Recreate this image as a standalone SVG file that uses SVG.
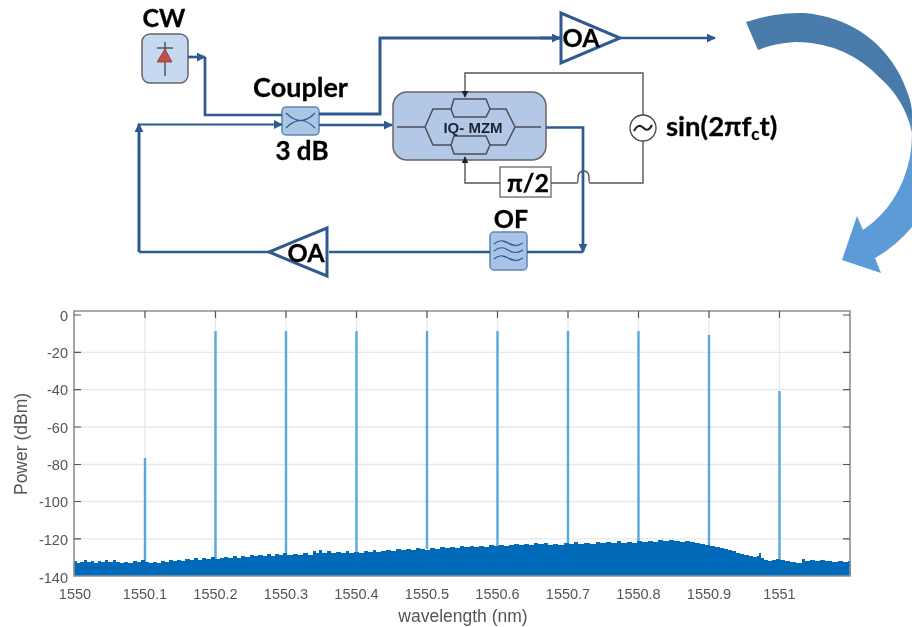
<svg xmlns="http://www.w3.org/2000/svg" width="912" height="627" viewBox="0 0 912 627">
<defs>
<style>
.lab{font-family:"Lato","Carlito","Liberation Sans",sans-serif;font-weight:700;fill:#000;stroke:#000;stroke-width:0.3px;font-size:25px}
.tick{font-family:"Liberation Sans",Arial,sans-serif;font-size:14.5px;fill:#555}
.blue{fill:none;stroke:#2f5a8f;stroke-width:2.7}
.blk{fill:none;stroke:#555;stroke-width:1.4}
.wg{fill:none;stroke:#4a4f5a;stroke-width:1.5}
.grid{stroke:#e8e8e8;stroke-width:1.3;fill:none}
.spk{stroke:#57a8de;stroke-width:2.4;fill:none}
.tk{stroke:#555;stroke-width:1.2;fill:none}
</style>
<marker id="ah" viewBox="0 0 10 10" refX="9" refY="5" markerWidth="9" markerHeight="9" markerUnits="userSpaceOnUse" orient="auto"><path d="M0 0L10 5L0 10Z" fill="#2f5a8f"/></marker>
<marker id="ak" viewBox="0 0 10 10" refX="9" refY="5" markerWidth="7" markerHeight="7" markerUnits="userSpaceOnUse" orient="auto"><path d="M0 0L10 5L0 10Z" fill="#222"/></marker>
<linearGradient id="ca" gradientUnits="userSpaceOnUse" x1="0" y1="13" x2="0" y2="273"><stop offset="0" stop-color="#4a7bab"/><stop offset="0.38" stop-color="#4a7aaa"/><stop offset="0.46" stop-color="#5b9bd5"/><stop offset="1" stop-color="#5b9bd5"/></linearGradient>
<filter id="soft" x="0" y="0" width="100%" height="100%"><feGaussianBlur stdDeviation="0.4"/></filter>
</defs>
<rect width="912" height="627" fill="#fff"/>
<g filter="url(#soft)">

<g id="node-cw">
<rect x="142" y="34" width="46" height="49" rx="8" fill="#c6d9f0" stroke="#666" stroke-width="1.500"/>
<path d="M165 42V76M157 48H173" stroke="#555" stroke-width="1.500" fill="none"/>
<path d="M157 62L165 49L172 62Z" fill="#c0504d" stroke="#8c3836" stroke-width="0.800"/>
<text class="lab" x="164" y="27" text-anchor="middle">CW</text>
</g>

<g id="node-coupler">
<rect x="282" y="107" width="37" height="28" rx="4" fill="#a9c6e3" stroke="#5b86b5" stroke-width="1.500"/>
<path d="M286 113Q300.500 128 315 113M286 128Q300.500 113 315 128" fill="none" stroke="#2f5a8f" stroke-width="1.200"/>
<text class="lab" x="300.500" y="97" text-anchor="middle" style="font-size:27px">Coupler</text>
<text class="lab" x="302" y="160" text-anchor="middle" style="font-size:26px">3 dB</text>
</g>

<g id="node-oa-top">
<path d="M561 13V63L620 38Z" fill="#fff" stroke="#2f5a8f" stroke-width="3"/>
<text class="lab" x="581" y="47" text-anchor="middle">OA</text>
</g>

<g id="node-mzm">
<rect x="393" y="92" width="153" height="68" rx="14" fill="#b3c7e6" stroke="#666" stroke-width="1.500"/>
<path class="wg" d="M397 127H425L433 109H451M490 109H506L515 127L506 145H490M451 145H433L425 127M515 127H541"/>
<path class="wg" d="M451 109L454 99H486L490 109L486 117H454Z"/>
<path class="wg" d="M451 145L454 136H486L490 145L486 154H454Z"/>
<text x="473" y="133" text-anchor="middle" font-family="Liberation Sans, Arial, sans-serif" font-weight="700" font-size="15" fill="#1d2433">IQ- MZM</text>
</g>

<g id="node-phase">
<rect x="500" y="167" width="51" height="30" fill="#fff" stroke="#666" stroke-width="1.300"/>
<text class="lab" x="528" y="192" text-anchor="middle">π/2</text>
</g>

<g id="node-source">
<circle cx="643" cy="128" r="13" fill="#fff" stroke="#444" stroke-width="1.300"/>
<path d="M634 131Q638 123 643 127.500Q648 133 652 125" fill="none" stroke="#222" stroke-width="2"/>
<text class="lab" x="666" y="136" style="font-size:27.500px">sin(2πf<tspan font-size="17" dy="4">c</tspan><tspan dy="-4">t)</tspan></text>
</g>

<g id="node-of">
<rect x="490" y="232" width="37" height="38" rx="4" fill="#a9c3e6" stroke="#5b86b5" stroke-width="1.500"/>
<path d="M494 244Q501 238 508 243T523 243M494 251Q501 245 508 250T523 250M494 259Q501 253 508 258T523 258M502 241L517 246M502 256L517 261" fill="none" stroke="#2f5a8f" stroke-width="1.100"/>
<text class="lab" x="511" y="228" text-anchor="middle">OF</text>
</g>

<g id="node-oa-bottom">
<path d="M327 228V276L269 252Z" fill="#fff" stroke="#2f5a8f" stroke-width="3"/>
<text class="lab" x="306" y="262" text-anchor="middle">OA</text>
</g>

<g id="connectors">
<path class="blue" d="M188 57H205" marker-end="url(#ah)"/>
<path class="blue" d="M205 57V115H282"/>
<path class="blue" d="M319 114H380V38H560" style="stroke-width:3"/>
<path class="blue" d="M540 38H560" marker-end="url(#ah)"/>
<path class="blue" d="M620 38H715" style="stroke-width:2.500" marker-end="url(#ah)"/>
<path class="blue" d="M139 252V124" style="stroke-width:3" marker-end="url(#ah)"/>
<path class="blue" d="M138 124.500H282" style="stroke-width:2.200" marker-end="url(#ah)"/>
<path class="blue" d="M319 125H392" style="stroke-width:2.500" marker-end="url(#ah)"/>
<path class="blue" d="M546 127.500H583V252" marker-end="url(#ah)"/>
<path class="blue" d="M583 252H527"/>
<path class="blue" d="M490 252H329"/>
<path class="blue" d="M269 252H139"/>
<path class="blk" d="M643 115V73H465V97" marker-end="url(#ak)"/>
<path class="blk" d="M643 141V183H590Q589 183 589 178Q589 171 584 171Q578 171 578 178Q578 183 577 183H551"/>
<path class="blk" d="M500 183H465V157" marker-end="url(#ak)"/>
</g>

<g id="curved-arrow">
<path d="M746 22Q775 12 805 13Q870 20 900 75Q912 100 912 113V227Q895 247 875 258L881 273L842 260L857 216L863 230Q900 205 910 157Q912 145 912 133Q905 100 880 78Q845 42 795 42Q775 43 758 50Z" fill="url(#ca)"/>
</g>

<g id="plot">
<path class="grid" d="M74 352.300H850M74 389.700H850M74 427H850M74 464.500H850M74 501.500H850M74 538.800H850"/>
<path class="grid" d="M145 311V576M215.500 311V576M286 311V576M356.500 311V576M427 311V576M497.500 311V576M568 311V576M638.500 311V576M709 311V576M779.500 311V576"/>
<path class="spk" d="M145 458V566M215.500 331V560M286 331V557M356.500 331V553M427 331V549M497.500 331V547M568 331V545M638.500 331V543M709 335V547M779.500 391V562"/>
<path fill="#0069b8" d="M74 576V561H77V563H80V562H84V560H87V562H91V561H94V563H98V561H101V562H105V560H108V562H113V560H116V562H120V563H124V562H128V563H133V561H137V562H141V560H145V562H149V563H153V562H157V563H161V561H165V562H169V560H173V561H177V560H181V561H185V559H190V560H194V558H198V560H202V558H206V559H211V557H215V559H220V558H224V557H228V558H233V556H237V558H241V556H245V557H250V555H254V556H258V555H263V556H267V554H271V556H275V554H279V555H283V553H287V555H293V554H298V555H303V553H308V555H313V551H316V553H319V550H322V553H327V551H331V553H336V552H341V553H346V551H349V553H354V552H359V553H364V551H368V552H373V550H376V552H381V551H386V550H391V551H396V549H401V550H406V549H411V550H416V548H420V549H425V550H430V548H435V549H440V547H445V548H450V547H455V548H460V546H464V547H470V546H474V547H479V546H484V547H489V545H494V546H499V545H504V546H509V545H514V544H519V545H524V544H529V545H534V543H538V544H544V543H548V545H553V544H558V545H564V543H569V544H574V542H578V544H584V543H590V544H596V542H600V543H606V542H611V543H617V541H621V543H627V542H632V543H637V541H642V542H648V541H653V542H658V540H663V541H669V540H674V541H680V542H685V541H690V542H695V543H700V544H705V545H710V546H715V547H720V548H724V549H728V550H732V551H736V553H740V554H744V555H749V556H753V557H757V556H759V553H761V558H764V560H768V561H772V560H776V559H780V560H785V561H790V562H796V563H802V559H805V561H810V560H815V561H820V560H825V561H832V562H838V561H843V562H848V561H851V576Z"/>
<path d="M74 576V311H850V576Z" fill="none" stroke="#909090" stroke-width="1.600"/>
<path class="tk" d="M74 315H81M74 352.300H81M74 389.700H81M74 427H81M74 464.500H81M74 501.500H81M74 538.800H81M850 315H843M850 352.300H843M850 389.700H843M850 427H843M850 464.500H843M850 501.500H843M850 538.800H843"/>
<path class="tk" d="M145 311V318M215.500 311V318M286 311V318M356.500 311V318M427 311V318M497.500 311V318M568 311V318M638.500 311V318M709 311V318M779.500 311V318"/>
<g class="tick" text-anchor="end">
<text x="68" y="321">0</text><text x="68" y="358">-20</text><text x="68" y="395">-40</text><text x="68" y="433">-60</text><text x="68" y="470">-80</text><text x="68" y="507">-100</text><text x="68" y="545">-120</text><text x="68" y="583">-140</text>
</g>
<g class="tick" text-anchor="middle">
<text x="75" y="599">1550</text><text x="145" y="599">1550.1</text><text x="215.500" y="599">1550.2</text><text x="286" y="599">1550.3</text><text x="356.500" y="599">1550.4</text><text x="427" y="599">1550.5</text><text x="497.500" y="599">1550.6</text><text x="568" y="599">1550.7</text><text x="638.500" y="599">1550.8</text><text x="709" y="599">1550.9</text><text x="779.500" y="599">1551</text>
<text x="463" y="622" style="font-size:17.500px">wavelength (nm)</text>
<text transform="translate(27 444) rotate(-90)" style="font-size:17.500px">Power (dBm)</text>
</g>
</g>
</g>
</svg>
